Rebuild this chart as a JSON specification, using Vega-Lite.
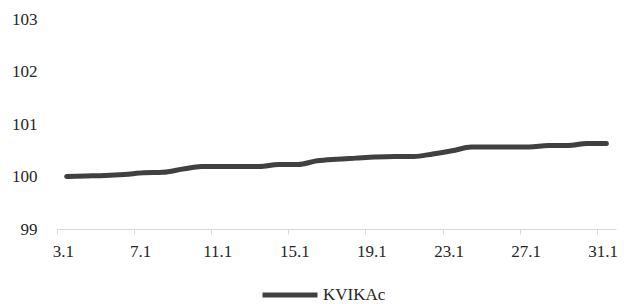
{
  "$schema": "https://vega.github.io/schema/vega-lite/v6.json",
  "width": 559,
  "height": 210,
  "autosize": {"type": "none"},
  "padding": {"left": 57, "top": 19, "right": 8, "bottom": 75},
  "background": "white",
  "config": {
    "view": {"stroke": null},
    "font": "Liberation Serif",
    "axis": {"labelFont": "Liberation Serif", "labelFontSize": 17, "labelColor": "#262626", "grid": false},
    "legend": {"labelFont": "Liberation Serif"}
  },
  "data": {"values": [
    {"day": 3, "value": 100.00, "series": "KVIKAc"},
    {"day": 4, "value": 100.01, "series": "KVIKAc"},
    {"day": 5, "value": 100.02, "series": "KVIKAc"},
    {"day": 6, "value": 100.04, "series": "KVIKAc"},
    {"day": 7, "value": 100.07, "series": "KVIKAc"},
    {"day": 8, "value": 100.08, "series": "KVIKAc"},
    {"day": 9, "value": 100.14, "series": "KVIKAc"},
    {"day": 10, "value": 100.19, "series": "KVIKAc"},
    {"day": 11, "value": 100.19, "series": "KVIKAc"},
    {"day": 12, "value": 100.19, "series": "KVIKAc"},
    {"day": 13, "value": 100.19, "series": "KVIKAc"},
    {"day": 14, "value": 100.23, "series": "KVIKAc"},
    {"day": 15, "value": 100.23, "series": "KVIKAc"},
    {"day": 16, "value": 100.30, "series": "KVIKAc"},
    {"day": 17, "value": 100.33, "series": "KVIKAc"},
    {"day": 18, "value": 100.35, "series": "KVIKAc"},
    {"day": 19, "value": 100.37, "series": "KVIKAc"},
    {"day": 20, "value": 100.38, "series": "KVIKAc"},
    {"day": 21, "value": 100.38, "series": "KVIKAc"},
    {"day": 22, "value": 100.43, "series": "KVIKAc"},
    {"day": 23, "value": 100.49, "series": "KVIKAc"},
    {"day": 24, "value": 100.56, "series": "KVIKAc"},
    {"day": 25, "value": 100.56, "series": "KVIKAc"},
    {"day": 26, "value": 100.56, "series": "KVIKAc"},
    {"day": 27, "value": 100.56, "series": "KVIKAc"},
    {"day": 28, "value": 100.59, "series": "KVIKAc"},
    {"day": 29, "value": 100.59, "series": "KVIKAc"},
    {"day": 30, "value": 100.63, "series": "KVIKAc"},
    {"day": 31, "value": 100.63, "series": "KVIKAc"}
  ]},
  "mark": {"type": "line", "strokeWidth": 5, "strokeCap": "round", "strokeJoin": "round", "interpolate": "monotone"},
  "encoding": {
    "x": {
      "field": "day", "type": "quantitative",
      "scale": {"domain": [2.5, 31.5], "nice": false, "zero": false},
      "axis": {
        "title": null,
        "values": [3, 7, 11, 15, 19, 23, 27, 31],
        "tickOffset": -9.64,
        "labelOffset": 6,
        "labelExpr": "datum.value + '.1'",
        "domainColor": "#d9d9d9",
        "domainWidth": 1,
        "tickColor": "#d9d9d9",
        "tickSize": 5,
        "labelPadding": 9,
        "labelFlush": false,
        "labelOverlap": false
      }
    },
    "y": {
      "field": "value", "type": "quantitative",
      "scale": {"domain": [99, 103], "nice": false, "zero": false},
      "axis": {
        "title": null,
        "values": [99, 100, 101, 102, 103],
        "domain": false,
        "ticks": false,
        "tickSize": 0,
        "labelPadding": 20,
        "labelFlush": false
      }
    },
    "color": {
      "field": "series", "type": "nominal",
      "scale": {"range": ["#404040"]},
      "legend": {
        "title": null,
        "orient": "none",
        "legendX": 203,
        "legendY": 246,
        "direction": "horizontal",
        "symbolType": "stroke",
        "symbolSize": 3025,
        "symbolStrokeWidth": 5,
        "labelFontSize": 17,
        "labelColor": "#262626",
        "labelOffset": 3,
        "padding": 0
      }
    }
  }
}
